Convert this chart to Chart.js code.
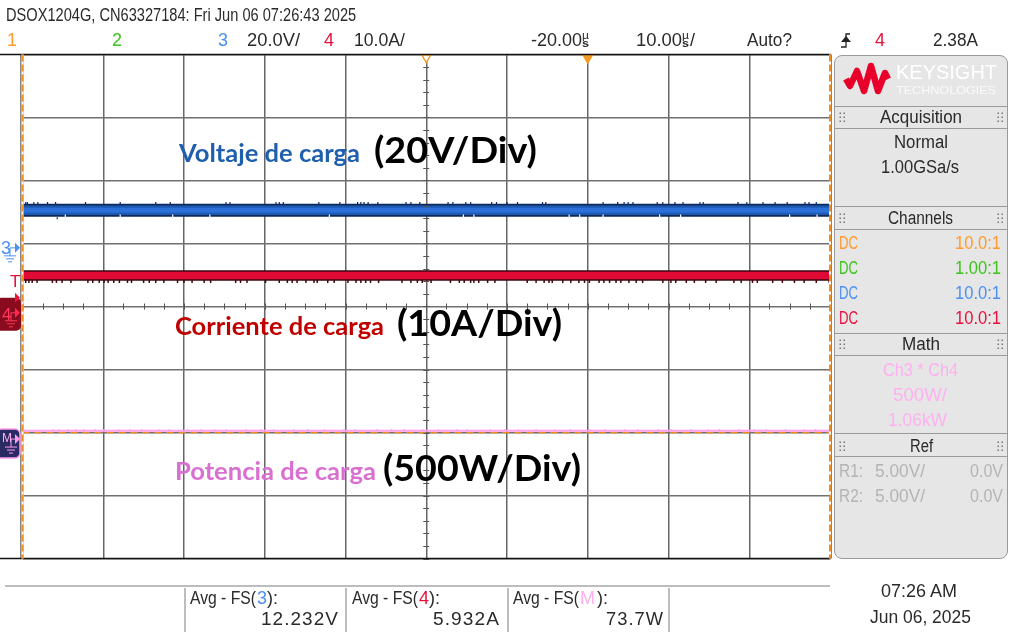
<!DOCTYPE html>
<html><head><meta charset="utf-8">
<script src="https://cdn.jsdelivr.net/npm/chart.js@4/dist/chart.umd.min.js"></script>
<style>
html,body{margin:0;padding:0;background:#fff;width:1010px;height:635px;overflow:hidden}
#stage{position:absolute;left:0;top:0;width:1010px;height:635px}
canvas{position:absolute;left:0;top:0}
.t{position:absolute;white-space:pre;line-height:1;transform-origin:0 50%}
.box{position:absolute;box-sizing:border-box}
</style></head><body>
<div id="stage"><canvas id="c" width="1010" height="635"></canvas><div id="ui"></div></div>
<script>
// ---- data ----
const sweepTimes   = [-70,-60,-50,-40,-30,-20,-10,0,10,20,30];        // µs
const voltageBand  = [12.23,12.23,12.24,12.23,12.22,12.23,12.24,12.23,12.23,12.22,12.23]; // V
const currentBand  = [5.93,5.94,5.93,5.93,5.92,5.93,5.94,5.93,5.93,5.93,5.93];             // A
const powerBand    = [73,74,73,74,73,74,73,74,73,74,73];                                    // W
const ch1Level     = [60,60,60,60,60,60,60,60,60,60,60];

const voltSpikesUp = [-69.6,-69.4,-68.6,-68.1,-66.9,-65.9,-62.2,-57.9,-53.5,-51.7,-44.8,-44.3,-38.6,-38.2,-37.7,-33.3,-30.7,-28.5,-28.1,-27.7,-27.2,-26.0,-22.5,-21.9,-20.8,-17.3,-16.7,-15.1,-14.5,-11.9,-11.3,-10.0,-8.7,-5.6,-5.2,1.9,3.7,4.5,5.0,5.6,8.6,9.3,10.8,11.8,13.9,14.3,18.6,19.7,21.7,23.2,24.7,26.9,27.4,28.3];
const voltSpikesDown = [-65.7];
const voltNotches  = [-64.7,-57.9,-51.4,-46.8,-32.0,-15.4,-14.1,-2.3,-1.0,1.9,8.9,11.5,25.0,28.4];
const currSpikesDown = [-69.6,-69.2,-68.8,-68.2,-66.3,-65.8,-65.1,-64.0,-61.9,-61.3,-60.5,-59.9,-59.4,-58.7,-58.0,-57.0,-56.5,-55.0,-54.3,-53.5,-52.5,-50.8,-50.0,-49.0,-47.5,-46.7,-43.6,-43.0,-42.2,-39.9,-38.2,-37.2,-36.6,-36.0,-34.9,-33.9,-33.5,-32.2,-31.4,-29.7,-28.7,-28.1,-27.5,-26.9,-25.9,-23.0,-21.9,-21.1,-20.5,-19.4,-17.0,-15.9,-15.3,-14.5,-14.1,-13.5,-12.4,-11.5,-7.5,-6.4,-5.4,-4.8,-4.4,-3.1,-2.1,-1.1,-0.4,0.2,1.4,2.0,2.7,3.5,4.1,5.1,6.0,6.8,9.3,10.3,10.9,12.2,13.2,14.6,15.9,18.1,19.0,20.4,21.0,22.9,24.1,25.6,26.8,28.3,29.9];
const powerSpikes  = [-66.2,-65.5,-64.4,-63.4,-62.4,-61.0,-60.0,-58.1,-56.7,-55.2,-53.1,-51.8,-49.6,-47.9,-46.2,-44.8,-42.3,-40.5,-38.9,-36.4,-34.7,-32.6,-30.2,-28.8,-26.1,-24.3,-22.7,-20.4,-18.5,-16.2,-14.9,-12.1,-10.3,-8.6,-6.4,-4.1,-2.2,0.3,2.1,4.6,6.2,8.7,10.4,12.8,14.9,16.3,18.7,20.6,22.1,24.5,26.8,28.2];
const horizontalDivisions = [-70,-60,-50,-40,-30,-20,-10,0,10,20,30];
const triggerTime = [0];
const delayTime   = [-20];

// Scope scale ranges (8 divisions tall)
const voltRange  = [-98.3, 61.7];
const ampRange   = [-39, 41];
const wattRange  = [-940, 3060];

const xy = (ts, vs) => ts.map((t,i)=>({x:t,y:vs[i]}));
function spikes(times, from, to){
  const out=[];
  for(const t of times){ out.push({x:t,y:from},{x:t,y:to},{x:t,y:null}); }
  return out;
}
const line = (label,data,yAxisID,color,width,order,extra={}) => Object.assign({
  label,data,yAxisID,borderColor:color,borderWidth:width,order,pointRadius:0,showLine:true,
  spanGaps:false,borderCapStyle:'butt',tension:0},extra);

const datasets = [
  line('Ch1',xy(sweepTimes,ch1Level),'yP','#f08c1e',1.5,9,{borderDash:[7,5]}),
  line('M spikes',spikes(powerSpikes,73,88),'yP','#ff9cec',1.2,8),
  line('M',xy(sweepTimes,powerBand),'yP','#ff9cec',2,7),
  line('Ch3 spikes up',spikes(voltSpikesUp,14,14.9),'yV','#0e2a5c',1.2,6),
  line('Ch3 spikes down',spikes(voltSpikesDown,10,9.4),'yV','#0e2a5c',1.2,6),
  line('Ch3 edge',xy(sweepTimes,voltageBand),'yV','#0e2a5c',13,5),
  line('Ch3 body',xy(sweepTimes,voltageBand),'yV','#1d58b0',9.5,4),
  line('Ch3 core',xy(sweepTimes,voltageBand),'yV','#2a70d8',5,3),
  line('Ch3 notches',spikes(voltNotches,10.1,10.9),'yV','#ffffff',1.2,2),
  line('Ch4 spikes',spikes(currSpikesDown,5.2,4.75),'yA','#45060f',1.5,6),
  line('Ch4 edge',xy(sweepTimes,currentBand),'yA','#3e0612',10.5,5),
  line('Ch4 body',xy(sweepTimes,currentBand),'yA','#e00a34',7.5,4),
  {label:'trigger',data:xy(triggerTime,[7.95]),yAxisID:'y',pointStyle:'triangle',rotation:180,pointRadius:6,pointBackgroundColor:'#f59a23',pointBorderColor:'#f59a23',showLine:false,clip:false,order:0},
  {label:'delay',data:xy(delayTime,[7.95]),yAxisID:'y',pointStyle:'triangle',rotation:180,pointRadius:5,pointBackgroundColor:'#fff',pointBorderColor:'#f59a23',pointBorderWidth:1.3,showLine:false,clip:false,order:0}
];

// furniture drawn from the scales: minor ticks, frame, ground markers
const furniture = {
  id:'furniture',
  afterDatasetsDraw(ch){
    const {ctx,chartArea:a,scales:s}=ch;
    ctx.save();
    ctx.strokeStyle='#555';ctx.lineWidth=1;
    const cy=s.y.getPixelForValue(4), cx=s.x.getPixelForValue(-20);
    for(let t=-70;t<=30;t+=2.5){const x=Math.round(s.x.getPixelForValue(t))+.5;ctx.beginPath();ctx.moveTo(x,cy-3);ctx.lineTo(x,cy+3);ctx.stroke();}
    for(let d=0;d<=8;d+=.2){const y=Math.round(s.y.getPixelForValue(d))+.5;ctx.beginPath();ctx.moveTo(cx-3,y);ctx.lineTo(cx+3,y);ctx.stroke();}
    // frame
    ctx.strokeStyle='#111';ctx.lineWidth=1.5;
    ctx.beginPath();ctx.moveTo(0,a.top);ctx.lineTo(a.right+1,a.top);ctx.moveTo(0,a.bottom);ctx.lineTo(a.right+1,a.bottom);ctx.stroke();
    ctx.lineWidth=1;ctx.beginPath();ctx.moveTo(a.left-1.5,a.top);ctx.lineTo(a.left-1.5,a.bottom);ctx.moveTo(a.right+1,a.top);ctx.lineTo(a.right+1,a.bottom);ctx.stroke();
    ctx.strokeStyle='#fff';ctx.lineWidth=2;
    ctx.beginPath();ctx.moveTo(a.left,a.top);ctx.lineTo(a.left,a.bottom);ctx.moveTo(a.right,a.top);ctx.lineTo(a.right,a.bottom);ctx.stroke();
    ctx.strokeStyle='#f08c1e';ctx.setLineDash([7,3]);
    ctx.beginPath();ctx.moveTo(a.left,a.top);ctx.lineTo(a.left,a.bottom);ctx.moveTo(a.right,a.top);ctx.lineTo(a.right,a.bottom);ctx.stroke();
    ctx.setLineDash([]);
    // ground markers
    const g3=s.yV.getPixelForValue(0), g4=s.yA.getPixelForValue(0), gM=s.yP.getPixelForValue(0), tr=s.yA.getPixelForValue(2.38);
    function ground(x,y,col){ctx.strokeStyle=col;ctx.lineWidth=1;ctx.beginPath();
      ctx.moveTo(x+8,y);ctx.lineTo(x,y);ctx.lineTo(x,y+8);
      ctx.moveTo(x-6,y+8);ctx.lineTo(x+6,y+8);ctx.moveTo(x-4,y+11);ctx.lineTo(x+4,y+11);ctx.moveTo(x-2,y+14);ctx.lineTo(x+2,y+14);ctx.stroke();}
    function arrow(xTip,y,col,r){ctx.fillStyle=col;ctx.beginPath();ctx.moveTo(xTip,y);ctx.lineTo(xTip-r,y-r);ctx.lineTo(xTip-r,y+r);ctx.closePath();ctx.fill();}
    ground(10,g3-1,'#4a90f0');arrow(20,g3-1,'#4a90f0',5);
    // Ch4 box
    ctx.fillStyle='#8a0a1e';ctx.beginPath();ctx.roundRect(-4,g4-15,25,33,5);ctx.fill();
    ground(11,g4,'#ff3a5a');arrow(20,g4,'#ff2a4c',5);
    arrow(20,tr,'#f0103c',5);
    // Math box
    ctx.fillStyle='#2b2b63';ctx.strokeStyle='#ff9cec';ctx.lineWidth=1.5;ctx.beginPath();ctx.roundRect(-4,gM-11,24,29,5);ctx.fill();ctx.stroke();
    ground(11,gM-1,'#ff9cec');arrow(20,gM-1,'#ff9cec',5);
    ctx.restore();
  }
};

new Chart(document.getElementById('c'),{
  type:'scatter',
  data:{datasets},
  plugins:[furniture],
  options:{
    responsive:false,animation:false,devicePixelRatio:1,
    layout:{padding:{left:22.5,right:180,top:54.5,bottom:76.5}},
    plugins:{legend:{display:false},tooltip:{enabled:false}},
    scales:{
      x:{type:'linear',min:horizontalDivisions[0],max:horizontalDivisions[horizontalDivisions.length-1],
         ticks:{stepSize:10,display:false},border:{display:false},
         grid:{color:'#666',lineWidth:1.5,drawTicks:false}},
      y:{type:'linear',min:0,max:8,ticks:{stepSize:1,display:false},border:{display:false},
         grid:{color:'#707070',lineWidth:1.5,drawTicks:false}},
      yV:{type:'linear',display:false,min:voltRange[0],max:voltRange[1]},
      yA:{type:'linear',display:false,min:ampRange[0],max:ampRange[1]},
      yP:{type:'linear',display:false,min:wattRange[0],max:wattRange[1]}
    }
  }
});

// ---- surrounding instrument UI ----
const ui=document.getElementById('ui');
const NARROW='"Liberation Sans Narrow","Liberation Sans",sans-serif';
const BOLD='Lato,"Open Sans",sans-serif';
function T(x,y,s,o={}){
  const d=document.createElement('div');d.className='t';d.textContent=s;
  const size=o.size||18;
  d.style.font=(o.weight||'400')+' '+size+'px '+(o.font||NARROW);
  d.style.color=o.color||'#2a2a2a';d.style.left='0';
  const dy=o.font===BOLD?4:1;
  d.style.top=(y-dy-size/2)+'px';
  if(o.ls)d.style.letterSpacing=o.ls+'px';
  ui.appendChild(d);
  const w=d.getBoundingClientRect().width;
  const sx=o.w?o.w/w:1;const W=w*sx;
  let left=x; if(o.a==='c')left=x-W/2; if(o.a==='r')left=x-W;
  d.style.left=left+'px';d.style.transform='scaleX('+sx.toFixed(3)+')';
  return d;
}
function B(x,y,w,h,css){const d=document.createElement('div');d.className='box';d.style.cssText+=`left:${x}px;top:${y}px;width:${w}px;height:${h}px;`+css;ui.appendChild(d);}
const ORANGE='#ff9a2e',GREEN='#3cc31c',BLUE='#4a90f0',RED='#e8103c',PINK='#ffb0f0',GREY='#b4b4b4';

// header
T(6,15,'DSOX1204G, CN63327184: Fri Jun 06 07:26:43 2025',{w:350,size:18});
T(7,40,'1',{color:ORANGE});T(112,40,'2',{color:GREEN});T(218,40,'3',{color:BLUE});
T(247,40,'20.0V/',{w:53});T(324,40,'4',{color:RED});T(354,40,'10.0A/',{w:51});
T(531,40,'-20.00',{w:51});T(582,36,'µ',{size:10,w:7});T(582,44,'s',{size:10,w:7,weight:'700'});
T(636,40,'10.00',{w:46});T(682,36,'µ',{size:10,w:7});T(682,44,'s',{size:10,w:7,weight:'700'});T(690,40,'/',{});
T(747,40,'Auto?',{w:45});T(875,40,'4',{color:RED});T(933,40,'2.38A',{w:45});
// trigger slope glyph
const svg=document.createElementNS('http://www.w3.org/2000/svg','svg');
svg.setAttribute('width','1010');svg.setAttribute('height','635');svg.style.cssText='position:absolute;left:0;top:0;pointer-events:none';
svg.innerHTML='<path d="M841 47H846V34H850" fill="none" stroke="#222" stroke-width="1.3"/><path d="M841 42L846 36L851 42Z" fill="#222"/>';
ui.appendChild(svg);

// side panel
B(834,55,174,504,'background:#e6e6e6;border:1.5px solid #9a9a9a;border-radius:8px;');
[[106,23],[206,24],[333,23],[433,24]].forEach(([y,h])=>B(835,y,172,h,'border-top:1.5px solid #9a9a9a;border-bottom:1.5px solid #9a9a9a;'));
const logo=document.createElementNS('http://www.w3.org/2000/svg','svg');
logo.setAttribute('width','1010');logo.setAttribute('height','635');logo.style.cssText='position:absolute;left:0;top:0;pointer-events:none';
logo.innerHTML='<polyline points="846,79 850,86 857,71 864,91 871,66 878,91 885,73 888,79" fill="none" stroke="#e8002a" stroke-width="6.5" stroke-linejoin="round"/>';
let dots='';
[117,218,344,446].forEach(y=>[842,1000].forEach(x=>{for(const dx of [-2,2])for(const dy of [-4,0,4])dots+=`<rect x="${x+dx-.5}" y="${y+dy-.5}" width="1.5" height="1.5" fill="#777"/>`;}));
logo.innerHTML+=dots;
ui.appendChild(logo);
T(896,72,'KEYSIGHT',{size:20,font:'"Liberation Sans",sans-serif',color:'#fff',w:101});
T(896,90,'TECHNOLOGIES',{size:11,font:'"Liberation Sans",sans-serif',color:'#fafafa',w:100});
T(921,117,'Acquisition',{a:'c',w:82});T(921,142,'Normal',{a:'c',w:54});T(920,167,'1.00GSa/s',{a:'c',w:78});
T(920,218,'Channels',{a:'c',w:65});
[[243,ORANGE,'10.0:1'],[268,GREEN,'1.00:1'],[293,BLUE,'10.0:1'],[318,RED,'10.0:1']].forEach(([y,c,v])=>{
  T(839,y,'DC',{color:c,w:19});T(1001,y,v,{color:c,a:'r',w:46});});
T(921,344,'Math',{a:'c',w:38});T(920,370,'Ch3 * Ch4',{a:'c',color:PINK,w:75});T(920,395,'500W/',{a:'c',color:PINK,w:54});T(917,420,'1.06kW',{a:'c',color:PINK,w:59});
T(921,446,'Ref',{a:'c',w:23});
[[471,'R1:'],[496,'R2:']].forEach(([y,r])=>{T(839,y,r,{color:GREY,w:24});T(875,y,'5.00V/',{color:GREY,w:50});T(1003,y,'0.0V',{color:GREY,a:'r',w:33});});

// measurements footer
B(5,585,825,1.5,'background:#bdbdbd;');
[184,345,507,668].forEach(x=>B(x,588,1.5,44,'background:#bdbdbd;'));
function fsLabel(x,ch,col){
  T(x,598,'Avg - FS(',{w:66});
  T(x+67,598,ch,{color:col});
  T(x+67+(ch==='M'?17:10),598,'):',{});
}
fsLabel(190,'3',BLUE);fsLabel(352,'4',RED);fsLabel(513,'M',PINK);
T(339,619,'12.232V',{a:'r',w:78,ls:1});
T(500,619,'5.932A',{a:'r',w:67,ls:1});
T(664,619,'73.7W',{a:'r',w:58,ls:1});
T(919,591,'07:26 AM',{a:'c',w:76});T(920,617,'Jun 06, 2025',{a:'c',w:101});

// channel tags
T(1,248,'3',{color:BLUE});T(10,281,'T',{color:RED,size:17});
T(2,314,'4',{color:'#ff3a5a',size:17});T(2,438,'M',{color:'#ffb0f0',size:12});

// annotations
T(179,153,'Voltaje de carga',{font:BOLD,weight:'700',size:25,color:'#1f5fae',w:181});
T(374,149,'(20V/Div)',{font:BOLD,weight:'700',size:36,color:'#000',w:163});
T(175,326,'Corriente de carga',{font:BOLD,weight:'700',size:25,color:'#c00000',w:209});
T(397,322,'(10A/Div)',{font:BOLD,weight:'700',size:36,color:'#000',w:165});
T(175,471,'Potencia de carga',{font:BOLD,weight:'700',size:25,color:'#d96fd0',w:201});
T(383,467,'(500W/Div)',{font:BOLD,weight:'700',size:36,color:'#000',w:198});
</script></body></html>
